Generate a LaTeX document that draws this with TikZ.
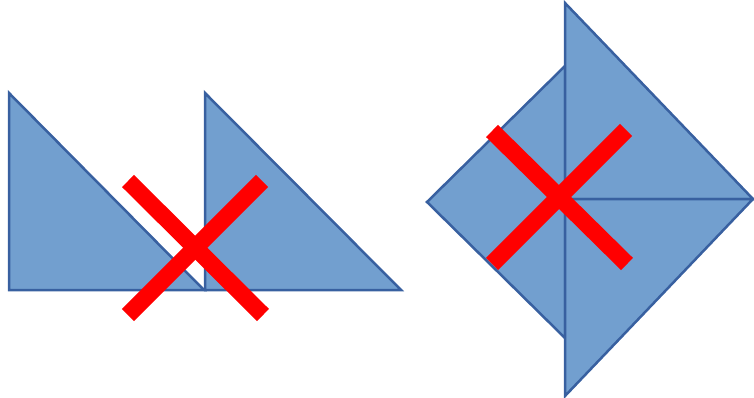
\documentclass[tikz,border=0pt]{standalone}
\usepackage{tikz}
\definecolor{shapefill}{RGB}{114,159,207}
\definecolor{shapeline}{RGB}{56,96,160}
\definecolor{crossred}{RGB}{255,0,0}
\begin{document}
\begin{tikzpicture}[x=1pt,y=-1pt,
  piece/.style={fill=shapefill,draw=shapeline,line width=2.5pt,line join=miter},
  crossbar/.style={draw=crossred,line width=17pt,line cap=butt}]
\useasboundingbox (0,0) rectangle (754,398);
% left triangles
\coordinate (a1) at (9,93);
\coordinate (a2) at (9,290);
\coordinate (a3) at (204,290);
\coordinate (b1) at (205,93);
\coordinate (b2) at (205,290);
\coordinate (b3) at (401,290);
\draw[piece] (a1) -- (a2) -- (a3) -- cycle;
\draw[piece] (b1) -- (b2) -- (b3) -- cycle;
% right shape
\coordinate (c1) at (565,66);
\coordinate (c2) at (427,202);
\coordinate (c3) at (565,338);
\coordinate (d1) at (565,3);
\coordinate (d2) at (753,199);
\coordinate (d3) at (565,396);
\coordinate (dm) at (565,199);
\draw[piece] (c1) -- (c2) -- (c3) -- cycle;
\draw[piece] (d1) -- (d2) -- (dm) -- cycle;
\draw[piece] (dm) -- (d2) -- (d3) -- cycle;
% crosses
\coordinate (x1) at (128,181);
\coordinate (x2) at (263,315);
\coordinate (x3) at (262,181);
\coordinate (x4) at (128,315);
\draw[crossbar] (x1) -- (x2);
\draw[crossbar] (x3) -- (x4);
\coordinate (y1) at (492,131);
\coordinate (y2) at (627,264);
\coordinate (y3) at (626,130);
\coordinate (y4) at (492,264);
\draw[crossbar] (y1) -- (y2);
\draw[crossbar] (y3) -- (y4);
\end{tikzpicture}
\end{document}
